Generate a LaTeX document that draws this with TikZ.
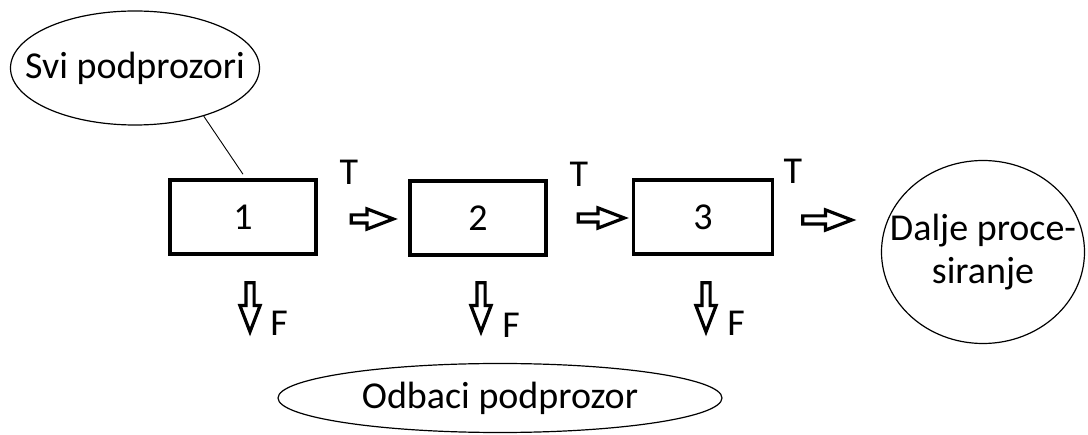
\documentclass[tikz,border=0pt]{standalone}
\usepackage{fontspec}
\setmainfont{Carlito}
\usetikzlibrary{shapes.geometric,shapes.arrows}

\begin{document}
\begin{tikzpicture}[x=1pt,y=1pt,
  every node/.style={font=\fontsize{38}{43}\selectfont},
  blok/.style={draw,line width=3.5pt,minimum height=74pt,inner sep=0pt},
  elip/.style={draw,ellipse,line width=1.2pt,inner sep=0pt},
  strelica/.style={draw,single arrow,line width=3.2pt,inner sep=2.5pt,
    single arrow head extend=6pt,single arrow tip angle=42}]
\useasboundingbox (0,0) rectangle (1088,-435);
% ulaz i izlazi
\node (svi) at (135,-68) [elip,inner xsep=-23pt,minimum width=249pt,minimum height=114pt] {Svi podprozori};
\node (dalje) at (983,-252) [elip,inner xsep=-22pt,minimum width=203pt,minimum height=183pt,align=center] {Dalje proce-\\siranje};
\node (odb) at (500,-398) [elip,minimum width=444pt,minimum height=69pt] {Odbaci podprozor};
% koraci
\node (b1) at (243,-217) [blok,minimum width=146pt] {1};
\node (b2) at (478,-218) [blok,minimum width=136pt] {2};
\node (b3) at (703,-217) [blok,minimum width=139pt] {3};
\draw [line width=0.9pt] (svi.-35) -- ([yshift=4pt]b1.north);
% T strelice
\node (s12) at (367,-219) [strelica,minimum height=42pt] {};
\node (s23) at (596,-218) [strelica,minimum height=46pt] {};
\node (s3) at (822,-220) [strelica,minimum height=49pt] {};
\node (t1) at (349,-172) {T};
\node (t2) at (579,-174) {T};
\node (t3) at (793,-171) {T};
% F strelice
\node (f1) at (250,-302) [strelica,minimum height=49pt,rotate=-90] {};
\node (f2) at (481,-302) [strelica,minimum height=49pt,rotate=-90] {};
\node (f3) at (706,-302) [strelica,minimum height=49pt,rotate=-90] {};
\node (l1) at (279,-323) {F};
\node (l2) at (511,-325) {F};
\node (l3) at (736,-323) {F};
\end{tikzpicture}
\end{document}
